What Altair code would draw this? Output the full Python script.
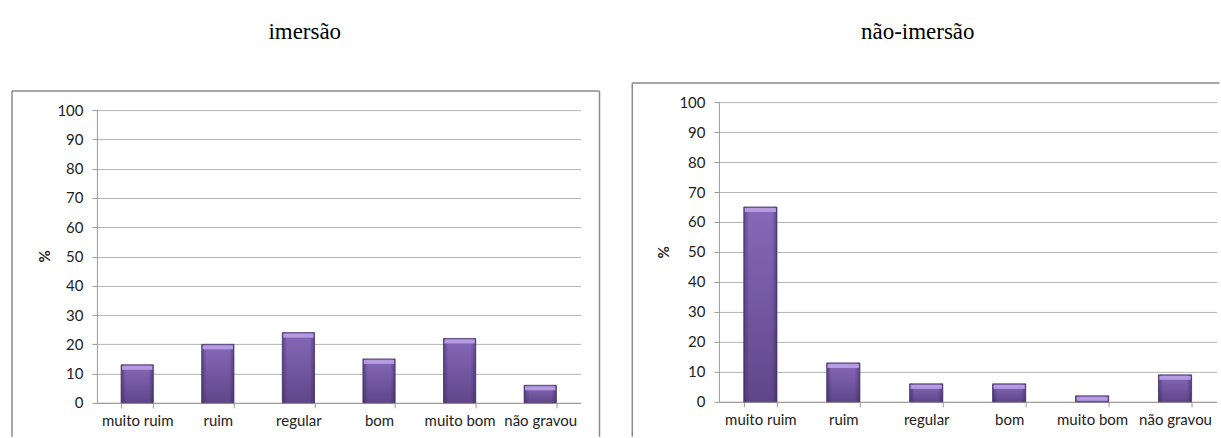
import altair as alt
import pandas as pd

# Survey answers, in percent, for the two groups
categories = ["muito ruim", "ruim", "regular", "bom", "muito bom", "não gravou"]
imersao = [13, 20, 24, 15, 22, 6]
nao_imersao = [65, 13, 6, 6, 2, 9]

titles = ["imersão", "não-imersão"]
y_ticks = list(range(0, 101, 10))

FONT = "Lato"
FRAME = "#8a8a8a"
one_row = pd.DataFrame({"k": [0]})


def frame_rule(x, y, x2=None, y2=None, opacity=1.0):
    enc = {"x": alt.value(x), "y": alt.value(y)}
    if x2 is not None:
        enc["x2"] = alt.value(x2)
    if y2 is not None:
        enc["y2"] = alt.value(y2)
    return alt.Chart(one_row).mark_rule(
        color=FRAME, strokeWidth=1.5, strokeOpacity=opacity
    ).encode(**enc)


def panel(values, title, width, height, y_range, title_x, pct_x, pct_y,
          frame_left, frame_top, frame_right=None, top_end=None, anchor=False):
    df = pd.DataFrame({"cat": categories, "pct": values})
    x = alt.X(
        "cat:N", sort=categories,
        scale=alt.Scale(paddingInner=0.6, paddingOuter=0.3),
        axis=alt.Axis(title=None, labelAngle=0, tickBand="extent",
                      grid=False, labelPadding=6, labelOverlap=False),
    )
    y = alt.Y(
        "pct:Q",
        scale=alt.Scale(domain=[0, 100], range=y_range, nice=False),
        axis=alt.Axis(values=y_ticks, grid=True, labelPadding=9,
                      title="%", titleAngle=270, titleX=pct_x, titleY=pct_y,
                      titleAlign="center", titleBaseline="middle",
                      titleFont=FONT, titleFontSize=15, titleFontWeight="bold",
                      titleColor="#222"),
    )
    step = width / len(categories)
    band = step * 0.4

    body = alt.Chart(df).mark_bar(
        fill=alt.Gradient(
            gradient="linear", x1=0, x2=0, y1=0, y2=1,
            stops=[alt.GradientStop(color="#8669ba", offset=0),
                   alt.GradientStop(color="#5f4689", offset=1)],
        ),
        stroke="#4d3870", strokeWidth=0.8,
    ).encode(x=x, y=y)

    edges = alt.Chart(df).mark_bar(
        fill=alt.Gradient(
            gradient="linear", x1=0, x2=1, y1=0, y2=0,
            stops=[alt.GradientStop(color="rgba(45,28,75,0.45)", offset=0),
                   alt.GradientStop(color="rgba(45,28,75,0)", offset=0.15),
                   alt.GradientStop(color="rgba(45,28,75,0)", offset=0.85),
                   alt.GradientStop(color="rgba(45,28,75,0.45)", offset=1)],
        ),
    ).encode(x=x, y=y)

    bevel = alt.Chart(df).mark_tick(
        color="#b59ce2", thickness=4, size=band - 2, yOffset=3, opacity=1
    ).encode(x=x, y=y)

    head = alt.Chart(one_row).mark_text(
        font="Liberation Serif", fontSize=23, align="center",
        baseline="alphabetic", color="#000",
    ).encode(x=alt.value(title_x), y=alt.value(-63), text=alt.value(title))

    bottom = 335
    layers = [
        frame_rule(frame_left, frame_top,
                   x2=(frame_right if frame_right is not None else top_end)),
        frame_rule(frame_left, frame_top, y2=bottom),
    ]
    if frame_right is not None:
        layers.append(frame_rule(frame_right, frame_top, y2=bottom))
    if anchor:
        layers.append(frame_rule(-96.5, -101.5, y2=bottom, opacity=0))
    layers += [body, edges, bevel, head]
    return alt.layer(*layers).properties(width=width, height=height)


left = panel(imersao, titles[0], width=484, height=301, y_range=[301, 8],
             title_x=208, pct_x=-52, pct_y=154,
             frame_left=-85, frame_top=-11, frame_right=503, anchor=True)
right = panel(nao_imersao, titles[1], width=498, height=300, y_range=[300, 0],
              title_x=199, pct_x=-55, pct_y=150,
              frame_left=-86.7, frame_top=-19, top_end=501)

chart = alt.hconcat(left, right, spacing=30.5).properties(
    padding=0, background="white"
).configure_view(stroke=None).configure_axis(
    labelFont=FONT, labelFontSize=15, labelColor="#222",
    domainColor="#9a9a9a", tickColor="#9a9a9a", tickSize=5,
    gridColor="#b4b4b4", gridWidth=1,
)

chart.save("out.html", embed_options={"renderer": "svg", "actions": False})
